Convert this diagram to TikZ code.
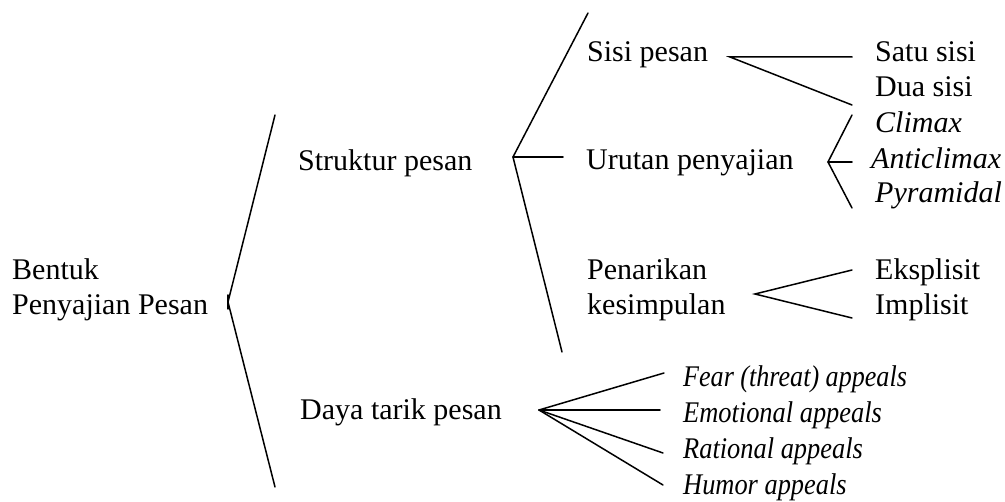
\documentclass[tikz,border=0pt]{standalone}
\usepackage{fontspec}
\setmainfont{Liberation Serif}
\begin{document}
\begin{tikzpicture}[x=1pt,y=-1pt,
  lbl/.style={anchor=base west,inner sep=0pt,font=\fontsize{30}{35}\selectfont,align=left},
  itl/.style={lbl,font=\fontsize{30}{35}\selectfont\itshape},
  br/.style={line width=1.5pt,line cap=round,line join=miter}]
\useasboundingbox (0,0) rectangle (1005,502);
% texts
\node[lbl] (root) at (12,315) {Bentuk\\Penyajian Pesan};
\node[lbl] (struk) at (298,171) {Struktur pesan};
\node[lbl] (daya) at (300,420) {Daya tarik pesan};
\node[lbl] (sisi) at (587,62) {Sisi pesan};
\node[lbl] (urut) at (586,170) {Urutan penyajian};
\node[lbl] (pena) at (587,315) {Penarikan\\kesimpulan};
\node[lbl] (satu) at (875,62) {Satu sisi};
\node[lbl] (dua) at (875,97) {Dua sisi};
\node[itl] (cli) at (875,133) {Climax};
\node[itl] (anti) at (871,169) {Anticlimax};
\node[itl] (pyr) at (875,203) {Pyramidal};
\node[lbl] (eks) at (875,280) {Eksplisit};
\node[lbl] (imp) at (875,315) {Implisit};
\node[itl] (fear) at (683,387) {\scalebox{0.87}[1]{Fear (threat) appeals}};
\node[itl] (emo) at (683,423) {\scalebox{0.88}[1]{Emotional appeals}};
\node[itl] (rat) at (683,459) {\scalebox{0.88}[1]{Rational appeals}};
\node[itl] (hum) at (683,495) {\scalebox{0.88}[1]{Humor appeals}};
% bracket points
\coordinate (v0) at (228,302);
\coordinate (v0t) at (275,115);
\coordinate (v0b) at (275,487);
\coordinate (v1) at (513,157);
\coordinate (v1t) at (588,13);
\coordinate (v1m) at (563,157);
\coordinate (v1b) at (562,352);
\coordinate (v2) at (730,57);
\coordinate (v2a) at (852,57);
\coordinate (v2b) at (852,105);
\coordinate (v3) at (828,162);
\coordinate (v3a) at (852,115);
\coordinate (v3b) at (852,162);
\coordinate (v3c) at (852,208);
\coordinate (v4) at (755,294);
\coordinate (v4a) at (852,270);
\coordinate (v4b) at (852,318);
\coordinate (v5) at (539,410);
\coordinate (v5a) at (664,373);
\coordinate (v5b) at (660,410);
\coordinate (v5c) at (663,453);
\coordinate (v5d) at (663,485);
\coordinate (t0a) at (228,295);
\coordinate (t0b) at (228,309);
% connectors
\draw[br] (v0t) -- (v0) -- (v0b);
\draw[br] (t0a) -- (t0b);
\draw[br] (v1t) -- (v1) -- (v1b);
\draw[br] (v1) -- (v1m);
\draw[br] (v2a) -- (v2) -- (v2b);
\draw[br] (v3a) -- (v3) -- (v3c);
\draw[br] (v3) -- (v3b);
\draw[br] (v4a) -- (v4) -- (v4b);
\draw[br] (v5) -- (v5a);
\draw[br] (v5) -- (v5b);
\draw[br] (v5) -- (v5c);
\draw[br] (v5) -- (v5d);
\end{tikzpicture}
\end{document}
